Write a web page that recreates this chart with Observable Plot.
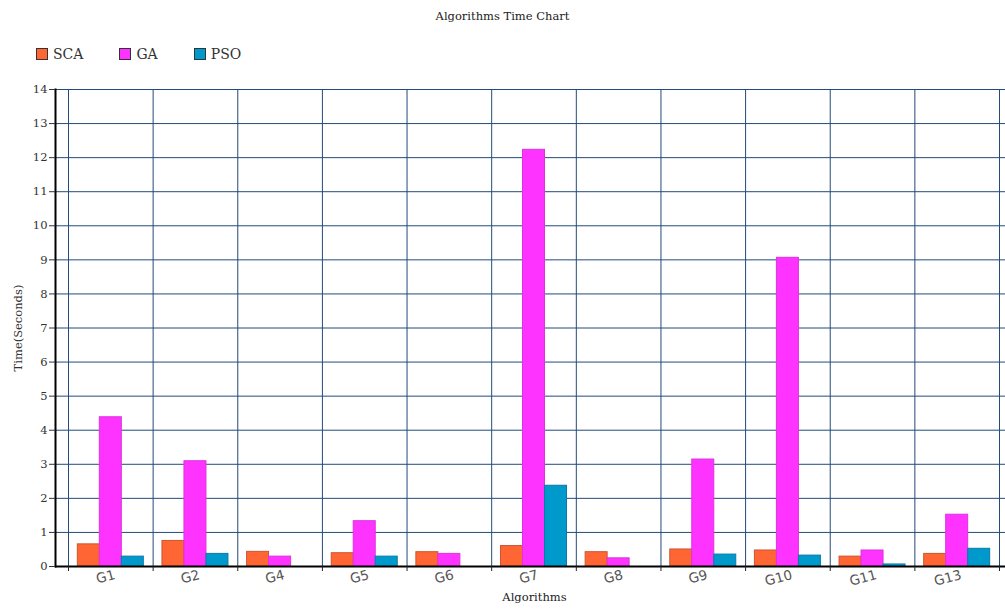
<!DOCTYPE html>
<html>
<head>
<meta charset="utf-8">
<script src="https://cdn.jsdelivr.net/npm/d3@7"></script>
<script src="https://cdn.jsdelivr.net/npm/@observablehq/plot@0.6"></script>
<style>
  html, body { margin: 0; padding: 0; background: #fff; }
  #wrap { position: relative; width: 1005px; height: 610px; overflow: hidden; }
  #header { position: relative; height: 70px; }
  #title { position: absolute; top: 9px; left: 0; width: 1005px; text-align: center;
           font-family: "DejaVu Serif", serif; font-size: 11.5px; color: #222; }
  #legend { position: absolute; top: 46px; left: 36px; display: flex; gap: 36px;
            font-family: "DejaVu Serif", serif; font-size: 14px; color: #333; }
  .item { display: flex; align-items: center; }
  .sw { width: 10px; height: 10px; border: 1px solid #333; margin-right: 5px; }
  #chart svg { display: block; }
</style>
</head>
<body>
<div id="wrap">
  <div id="header">
    <div id="title"></div>
    <div id="legend"></div>
  </div>
  <div id="chart"></div>
</div>
<script>
const titleText = "Algorithms Time Chart";
const xTitle = "Algorithms";
const yTitle = "Time(Seconds)";
const categories = ["G1","G2","G4","G5","G6","G7","G8","G9","G10","G11","G13"];
const seriesNames = ["SCA","GA","PSO"];
const seriesColors = ["#ff6633","#ff33ff","#0099cc"];
const seriesStrokes = ["#cc5530","#dd33dd","#0a7aa8"];
const sca = [0.65,0.75,0.43,0.39,0.42,0.60,0.42,0.50,0.47,0.29,0.37];
const ga  = [4.38,3.09,0.29,1.33,0.37,12.23,0.24,3.14,9.06,0.47,1.52];
const pso = [0.29,0.37,0,0.29,0,2.37,0,0.35,0.32,0.06,0.52];
const yTicks = [0,1,2,3,4,5,6,7,8,9,10,11,12,13,14];

const seriesValues = [sca, ga, pso];
document.getElementById("title").textContent = titleText;
const legend = document.getElementById("legend");
seriesNames.forEach((n, i) => {
  const it = document.createElement("div"); it.className = "item";
  const sw = document.createElement("div"); sw.className = "sw"; sw.style.background = seriesColors[i];
  const tx = document.createElement("span"); tx.textContent = n;
  it.appendChild(sw); it.appendChild(tx); legend.appendChild(it);
});

const W = 1005, H = 540;
const mL = 55, mR = 0, insL = 13, insR = 6;
const bw = (W - mL - mR - insL - insR) / categories.length;
const barW = 22;
const grid = "#234a7a";
const serif = "DejaVu Serif";

const barMarks = seriesNames.map((name, s) =>
  Plot.barY(categories.map((c, i) => ({cat: c, v: seriesValues[s][i]})).filter(d => d.v > 0), {
    x: "cat", y: "v",
    fill: seriesColors[s], stroke: seriesStrokes[s], strokeWidth: 1,
    insetLeft: (bw - barW) / 2, insetRight: (bw - barW) / 2,
    dx: (s - 1) * barW
  })
);

const plot = Plot.plot({
  width: W, height: H,
  marginLeft: mL, marginRight: mR, marginTop: 19, marginBottom: 44,
  style: {fontFamily: serif, background: "white"},
  x: {domain: categories, padding: 0, round: false, insetLeft: insL, insetRight: insR, label: null},
  y: {domain: [0, 14], label: null},
  marks: [
    Plot.ruleY(yTicks.slice(1), {stroke: grid, strokeWidth: 1}),
    Plot.ruleX(categories, {x: d => d, dx: -bw / 2, stroke: grid, strokeWidth: 1}),
    Plot.ruleX([categories[categories.length - 1]], {x: d => d, dx: bw / 2, stroke: grid, strokeWidth: 1}),
    ...barMarks,
    Plot.ruleY([0], {stroke: "black", strokeWidth: 2}),
    Plot.frame({anchor: "left", stroke: "black", strokeWidth: 2}),
    Plot.axisY({ticks: yTicks, tickSize: 6, tickPadding: 2, fontSize: 11.5, fontFamily: serif, color: "#333",
                label: yTitle, labelAnchor: "center", labelOffset: 42, labelArrow: "none"}),
    Plot.axisX({tickSize: 5, tickFormat: () => "", dx: -bw / 2, label: null, color: "#222"}),
    Plot.axisX({ticks: [categories[categories.length - 1]], tickSize: 5, tickFormat: () => "", dx: bw / 2, label: null, color: "#222"}),
    Plot.axisX({tickSize: 0, tickRotate: -15, tickPadding: 8, dx: 4, fontSize: 13.5, fontFamily: "DejaVu Sans", color: "#555", label: null}),
    Plot.text([xTitle], {frameAnchor: "bottom", dy: 34, dx: 4, fontSize: 11.5, fontFamily: serif, fill: "#222"})
  ]
});
document.getElementById("chart").appendChild(plot);
</script>
</body>
</html>
